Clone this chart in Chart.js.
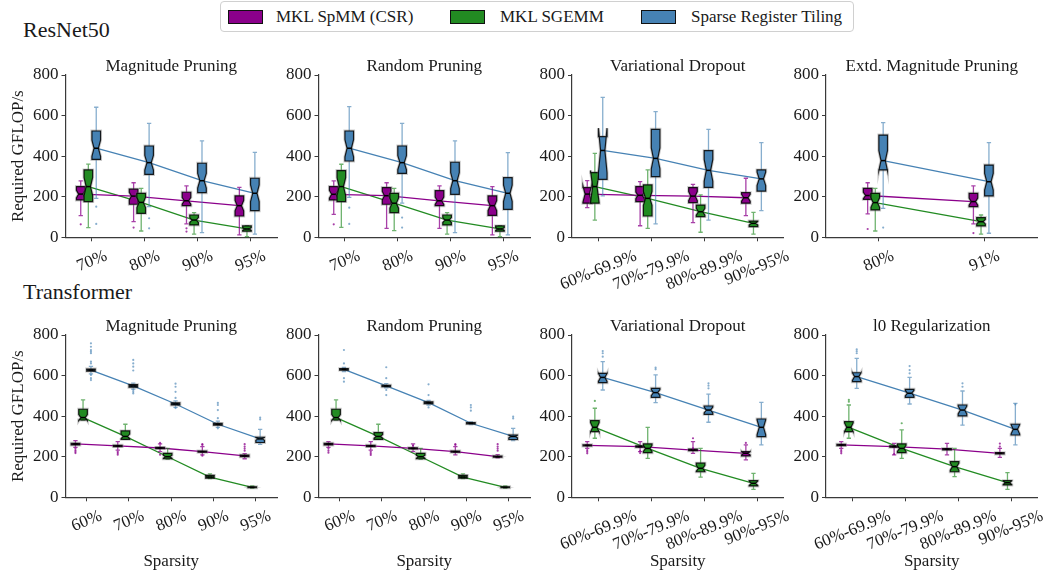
<!DOCTYPE html>
<html>
<head>
<meta charset="utf-8">
<script src="https://cdn.jsdelivr.net/npm/chart.js@4.4.1/dist/chart.umd.min.js"></script>
<style>
  body { margin: 0; background: #fff; }
  #root { position: relative; width: 1057px; height: 575px; overflow: hidden; font-family: "Liberation Serif", serif; color: #1a1a1a; }
  #root canvas { position: absolute; }
  .rowlabel { position: absolute; left: 23px; font-size: 22px; line-height: 22px; }
  #legend { position: absolute; left: 220px; top: 1px; width: 634px; height: 31px; border: 1px solid #d0d0d0; border-radius: 4px; box-sizing: border-box; }
  #legend .sw { position: absolute; top: 8px; width: 33px; height: 12px; border: 1px solid #111; }
  #legend .txt { position: absolute; top: 5px; font-size: 17px; line-height: 20px; white-space: nowrap; }
</style>
</head>
<body>
<div id="root">
  <div id="legend">
    <span class="sw" style="left:7px;background:#8b008b"></span><span class="txt" style="left:55px">MKL SpMM (CSR)</span>
    <span class="sw" style="left:229px;background:#228b22"></span><span class="txt" style="left:279px">MKL SGEMM</span>
    <span class="sw" style="left:420px;background:#4682b4"></span><span class="txt" style="left:470px">Sparse Register Tiling</span>
  </div>
  <div class="rowlabel" style="top:19px">ResNet50</div>
  <div class="rowlabel" style="top:281px">Transformer</div>
</div>
<script>
// ----------------- DATA -----------------
// each box: [lower whisker, q1, median, q3, upper whisker]
const r50Cats = ["70%", "80%", "90%", "95%"];
const r50VarCats = ["60%-69.9%", "70%-79.9%", "80%-89.9%", "90%-95%"];
const r50ExtCats = ["80%", "91%"];
const trCats = ["60%", "70%", "80%", "90%", "95%"];
const trRangeCats = ["60%-69.9%", "70%-79.9%", "80%-89.9%", "90%-95%"];
const yTicks = [0, 200, 400, 600, 800];

// ResNet50 - Magnitude Pruning
const r50MagCsr = [[107, 184, 213, 250, 278], [77, 163, 203, 237, 269], [66, 156, 180, 222, 253], [12, 105, 156, 204, 246]];
const r50MagGemm = [[48, 176, 250, 332, 361], [31, 118, 172, 217, 241], [16, 61, 85, 110, 122], [3, 30, 41, 56, 58]];
const r50MagSrt = [[192, 384, 439, 524, 641], [151, 310, 368, 450, 562], [23, 220, 279, 365, 475], [16, 131, 217, 291, 419]];
const r50MagCsrOut = [[64], [48], [44, 28], []];
const r50MagGemmOut = [[], [], [], []];
const r50MagSrtOut = [[151, 66], [94, 44], [], []];
const r50MagN = [30, 37, 40, 37];

// ResNet50 - Random Pruning
const r50RndCsr = [[113, 184, 212, 250, 278], [44, 163, 205, 245, 269], [44, 156, 180, 230, 253], [12, 108, 156, 204, 250]];
const r50RndGemm = [[49, 176, 250, 329, 360], [33, 122, 168, 217, 241], [16, 61, 85, 110, 122], [3, 30, 41, 56, 58]];
const r50RndSrt = [[197, 376, 439, 524, 644], [168, 315, 368, 450, 562], [23, 212, 279, 370, 475], [12, 138, 217, 294, 417]];
const r50RndCsrOut = [[64], [], [], []];
const r50RndGemmOut = [[], [], [], []];
const r50RndSrtOut = [[146, 66], [97, 48], [], []];
const r50RndN = [30, 37, 40, 37];

// ResNet50 - Variational Dropout
const r50VarCsr = [[146, 168, 213, 245, 279], [57, 176, 207, 250, 274], [72, 171, 203, 245, 261], [107, 168, 195, 220, 291]];
const r50VarGemm = [[85, 168, 250, 319, 414], [44, 105, 192, 258, 332], [25, 102, 126, 159, 209], [16, 53, 69, 80, 123]];
const r50VarSrt = [[204, 286, 428, 496, 690], [66, 299, 389, 532, 619], [85, 246, 330, 427, 532], [131, 228, 288, 332, 467]];
const r50VarCsrOut = [[], [], [], []];
const r50VarGemmOut = [[], [], [], []];
const r50VarSrtOut = [[], [], [], []];
const r50VarN = [9, 50, 28, 24];

// ResNet50 - Extd. Magnitude Pruning
const r50ExtCsr = [[115, 187, 206, 241, 269], [66, 151, 176, 217, 253]];
const r50ExtGemm = [[31, 135, 171, 217, 241], [16, 56, 77, 97, 110]];
const r50ExtSrt = [[143, 332, 378, 504, 565], [20, 204, 274, 356, 467]];
const r50ExtCsrOut = [[41], [21]];
const r50ExtGemmOut = [[], []];
const r50ExtSrtOut = [[48], []];
const r50ExtN = [30, 34];

// Transformer - Magnitude Pruning
const trMagCsr = [[246, 258, 263, 266, 279], [233, 250, 253, 256, 274], [225, 240, 243, 246, 263], [209, 222, 225, 228, 250], [190, 200, 204, 208, 215]];
const trMagGemm = [[381, 381, 393, 434, 480], [286, 286, 300, 327, 360], [187, 190, 200, 217, 241], [92, 95, 100, 108, 115], [45, 47, 49, 52, 56]];
const trMagSrt = [[608, 622, 627, 632, 645], [533, 543, 549, 555, 563], [443, 455, 460, 465, 475], [345, 356, 360, 364, 375], [261, 270, 288, 296, 335]];
const trMagCsrOut = [[240, 232, 225, 218], [225, 218, 210], [210, 268], [262, 258, 205], [262, 250, 240, 230]];
const trMagGemmOut = [[], [], [], [], []];
const trMagSrtOut = [[759, 742, 726, 718, 710, 669, 660, 603, 587, 578], [677, 660, 644, 625, 529, 520, 512], [560, 545, 520, 490, 440], [465, 455, 430, 390, 340], [393, 384]];
const trMagN = [30, 30, 30, 30, 30];

// Transformer - Random Pruning
const trRndCsr = [[246, 258, 263, 266, 274], [233, 250, 253, 256, 274], [225, 238, 241, 244, 263], [209, 222, 225, 228, 250], [195, 198, 200, 203, 210]];
const trRndGemm = [[381, 381, 393, 434, 480], [286, 286, 300, 319, 360], [187, 190, 200, 217, 241], [92, 95, 100, 108, 115], [45, 47, 49, 52, 56]];
const trRndSrt = [[620, 627, 631, 634, 640], [540, 545, 549, 552, 560], [455, 462, 467, 470, 478], [358, 362, 365, 368, 372], [280, 285, 300, 307, 340]];
const trRndCsrOut = [[240, 230, 220], [225, 217, 209], [255], [262, 258], [262, 250, 240, 230]];
const trRndGemmOut = [[], [], [], [], []];
const trRndSrtOut = [[726, 660, 587, 570], [641, 587, 529, 504], [557, 504, 443], [455, 443, 427], [398, 389]];
const trRndN = [30, 30, 30, 30, 30];

// Transformer - Variational Dropout
const trVarCsr = [[241, 253, 256, 259, 274], [225, 247, 250, 253, 274], [217, 230, 233, 237, 274], [184, 204, 217, 225, 258]];
const trVarGemm = [[291, 324, 345, 378, 439], [192, 220, 241, 263, 345], [99, 126, 143, 168, 241], [39, 56, 69, 82, 118]];
const trVarSrt = [[529, 565, 591, 611, 669], [467, 493, 516, 537, 603], [370, 409, 430, 450, 509], [258, 299, 345, 386, 468]];
const trVarCsrOut = [[233, 225, 217], [228, 218], [291, 241], [268]];
const trVarGemmOut = [[475], [], [], []];
const trVarSrtOut = [[721, 710, 693], [639, 631], [562, 550, 537], []];
const trVarN = [13, 20, 20, 14];

// Transformer - l0 Regularization
const trL0Csr = [[241, 255, 258, 261, 274], [209, 247, 250, 253, 266], [209, 234, 237, 240, 266], [197, 214, 217, 220, 241]];
const trL0Gemm = [[291, 324, 345, 373, 455], [192, 220, 241, 263, 332], [102, 126, 151, 176, 241], [39, 61, 72, 82, 122]];
const trL0Srt = [[537, 570, 595, 614, 685], [460, 493, 513, 532, 591], [356, 401, 430, 455, 524], [258, 307, 335, 360, 463]];
const trL0CsrOut = [[233, 225, 217], [213], [], [250, 265]];
const trL0GemmOut = [[480, 471], [365], [], []];
const trL0SrtOut = [[729, 720, 710], [647, 627, 611], [562, 545], [458]];
const trL0N = [13, 20, 20, 13];

// ----------------- STYLE / LAYOUT -----------------
const COLORS = ["#8b008b", "#228b22", "#4682b4"];
const WHISKER = ["rgba(139,0,139,0.75)", "rgba(34,139,34,0.65)", "rgba(70,130,180,0.65)"];
const AXIS_COLOR = "#3a3a3a";
const FONT = "'Liberation Serif', serif";
const AREA_LEFT = [65.5, 318.5, 572, 826];
const AREA_W = 211.5;
const AREA_TOP = [75, 335];
const AREA_H = 162.3;
const TITLE_H = 31;
const CANVAS_H = [250, 271];
const BOX_W = 8.6;
const SHIFT_PX = [-11.2, -3.6, 4.3];
const ROT = 22;

Chart.defaults.font.family = FONT;
Chart.defaults.font.size = 17;
Chart.defaults.color = "#1a1a1a";

const panels = [
  { title: "Magnitude Pruning", row: 0, col: 0, cats: r50Cats, boxes: [r50MagCsr, r50MagGemm, r50MagSrt], out: [r50MagCsrOut, r50MagGemmOut, r50MagSrtOut], n: r50MagN },
  { title: "Random Pruning", row: 0, col: 1, cats: r50Cats, boxes: [r50RndCsr, r50RndGemm, r50RndSrt], out: [r50RndCsrOut, r50RndGemmOut, r50RndSrtOut], n: r50RndN },
  { title: "Variational Dropout", row: 0, col: 2, cats: r50VarCats, boxes: [r50VarCsr, r50VarGemm, r50VarSrt], out: [r50VarCsrOut, r50VarGemmOut, r50VarSrtOut], n: r50VarN },
  { title: "Extd. Magnitude Pruning", row: 0, col: 3, cats: r50ExtCats, boxes: [r50ExtCsr, r50ExtGemm, r50ExtSrt], out: [r50ExtCsrOut, r50ExtGemmOut, r50ExtSrtOut], n: r50ExtN },
  { title: "Magnitude Pruning", row: 1, col: 0, cats: trCats, boxes: [trMagCsr, trMagGemm, trMagSrt], out: [trMagCsrOut, trMagGemmOut, trMagSrtOut], n: trMagN },
  { title: "Random Pruning", row: 1, col: 1, cats: trCats, boxes: [trRndCsr, trRndGemm, trRndSrt], out: [trRndCsrOut, trRndGemmOut, trRndSrtOut], n: trRndN },
  { title: "Variational Dropout", row: 1, col: 2, cats: trRangeCats, boxes: [trVarCsr, trVarGemm, trVarSrt], out: [trVarCsrOut, trVarGemmOut, trVarSrtOut], n: trVarN },
  { title: "l0 Regularization", row: 1, col: 3, cats: trRangeCats, boxes: [trL0Csr, trL0Gemm, trL0Srt], out: [trL0CsrOut, trL0GemmOut, trL0SrtOut], n: trL0N },
];

// ----------------- BOX PLOT PLUGIN -----------------
function boxPlugin(p, catPx) {
  return {
    id: "notchedBoxes",
    afterDatasetsDraw(chart) {
      const { ctx } = chart;
      const xs = chart.scales.x, ys = chart.scales.y;
      ctx.save();
      p.boxes.forEach((series, k) => {
        series.forEach((b, i) => {
          const [lo, q1, med, q3, hi] = b;
          const x = xs.getPixelForValue(i + SHIFT_PX[k] / catPx);
          const ci = 1.57 * (q3 - q1) / Math.sqrt(p.n[i]);
          const L = x - BOX_W / 2, R = x + BOX_W / 2, cL = x - BOX_W / 4, cR = x + BOX_W / 4;
          const Y = v => ys.getPixelForValue(v);

          // whiskers + caps
          ctx.strokeStyle = WHISKER[k];
          ctx.lineWidth = 1.3;
          ctx.beginPath();
          ctx.moveTo(x, Y(q3)); ctx.lineTo(x, Y(hi));
          ctx.moveTo(x, Y(q1)); ctx.lineTo(x, Y(lo));
          ctx.moveTo(cL, Y(hi)); ctx.lineTo(cR, Y(hi));
          ctx.moveTo(cL, Y(lo)); ctx.lineTo(cR, Y(lo));
          ctx.stroke();

          // notched box
          ctx.beginPath();
          ctx.moveTo(L, Y(q1)); ctx.lineTo(R, Y(q1));
          ctx.lineTo(R, Y(med - ci)); ctx.lineTo(cR, Y(med)); ctx.lineTo(R, Y(med + ci));
          ctx.lineTo(R, Y(q3)); ctx.lineTo(L, Y(q3));
          ctx.lineTo(L, Y(med + ci)); ctx.lineTo(cL, Y(med)); ctx.lineTo(L, Y(med - ci));
          ctx.closePath();
          ctx.lineJoin = "miter";
          ctx.strokeStyle = "rgba(110,110,110,0.35)";
          ctx.lineWidth = 3;
          ctx.stroke();
          ctx.fillStyle = COLORS[k];
          ctx.fill();
          ctx.strokeStyle = "rgba(0,0,0,0.85)";
          ctx.lineWidth = 1.2;
          ctx.stroke();

          // median
          ctx.strokeStyle = "#000";
          ctx.lineWidth = 1.5;
          ctx.beginPath();
          ctx.moveTo(cL, Y(med)); ctx.lineTo(cR, Y(med));
          ctx.stroke();

          // fliers
          ctx.fillStyle = WHISKER[k];
          p.out[k][i].forEach(v => {
            ctx.beginPath();
            ctx.arc(x, Y(v), 1.1, 0, Math.PI * 2);
            ctx.fill();
          });
        });
      });
      ctx.restore();
    },
    afterDraw(chart) {
      const { ctx, chartArea } = chart;
      const xs = chart.scales.x;
      const th = ROT * Math.PI / 180;
      ctx.save();
      ctx.font = "17px " + FONT;
      ctx.fillStyle = "#1a1a1a";

      // panel title centred over the axes
      ctx.textAlign = "center";
      ctx.textBaseline = "alphabetic";
      ctx.fillText(p.title, (chartArea.left + chartArea.right) / 2, chartArea.top - 4.5);

      // rotated tick labels centred under each tick (matplotlib style)
      ctx.textBaseline = "middle";
      p.cats.forEach((lab, i) => {
        const w = ctx.measureText(lab).width;
        const bh = w * Math.sin(th) + 13 * Math.cos(th);
        const x = xs.getPixelForValue(i);
        const y = xs.top + 4 + 8 + bh / 2;
        ctx.save();
        ctx.translate(x, y);
        ctx.rotate(-th);
        ctx.fillText(lab, 0, 0);
        ctx.restore();
      });
      ctx.restore();
    }
  };
}

// ----------------- BUILD PANELS -----------------
function addPanel(p) {
  const root = document.getElementById("root");
  const areaLeft = AREA_LEFT[p.col];
  const canvasLeft = p.col === 0 ? 0 : Math.floor(areaLeft - 52);
  const yW = areaLeft - canvasLeft;
  const canvasTop = AREA_TOP[p.row] - TITLE_H;
  const H = CANVAS_H[p.row];
  const xH = H - TITLE_H - AREA_H;
  const W = Math.ceil(yW + AREA_W + 40);
  const rightPad = W - yW - AREA_W;
  const catPx = AREA_W / p.cats.length;

  const canvas = document.createElement("canvas");
  canvas.width = W;
  canvas.height = H;
  canvas.style.left = canvasLeft + "px";
  canvas.style.top = canvasTop + "px";
  canvas.style.width = W + "px";
  canvas.style.height = H + "px";
  root.appendChild(canvas);

  const datasets = p.boxes.map((series, k) => ({
    type: "line",
    data: series.map((b, i) => ({ x: i + SHIFT_PX[k] / catPx, y: b[2] })),
    borderColor: COLORS[k],
    borderWidth: 1.3,
    pointRadius: 0,
    tension: 0,
    clip: false,
  }));

  new Chart(canvas.getContext("2d"), {
    type: "line",
    data: { datasets },
    options: {
      responsive: false,
      animation: false,
      devicePixelRatio: 1,
      layout: { padding: { left: 0, right: rightPad, top: TITLE_H, bottom: 0 } },
      plugins: {
        legend: { display: false },
        tooltip: { enabled: false },
        title: { display: false },
      },
      scales: {
        x: {
          type: "linear",
          min: -0.5,
          max: p.cats.length - 0.5,
          afterBuildTicks: s => { s.ticks = p.cats.map((_, i) => ({ value: i })); },
          afterFit: s => { s.height = xH; },
          ticks: { display: false },
          grid: { drawOnChartArea: false, drawTicks: true, tickLength: 4, color: AXIS_COLOR, lineWidth: 1 },
          border: { color: AXIS_COLOR, width: 1.2 },
          title: { display: p.row === 1, text: "Sparsity", font: { size: 17 }, padding: { top: 0, bottom: 3 } },
        },
        y: {
          min: 0,
          max: 800,
          afterBuildTicks: s => { s.ticks = yTicks.map(v => ({ value: v })); },
          afterFit: s => { s.width = yW; },
          ticks: { padding: 3, font: { size: 17 }, color: "#1a1a1a" },
          grid: { drawOnChartArea: false, drawTicks: true, tickLength: 4, color: AXIS_COLOR, lineWidth: 1 },
          border: { color: AXIS_COLOR, width: 1.2 },
          title: { display: p.col === 0, text: "Required GFLOP/s", font: { size: 17 }, padding: { top: 8, bottom: 0 } },
        },
      },
    },
    plugins: [boxPlugin(p, catPx)],
  });
}

panels.forEach(addPanel);
</script>
</body>
</html>
